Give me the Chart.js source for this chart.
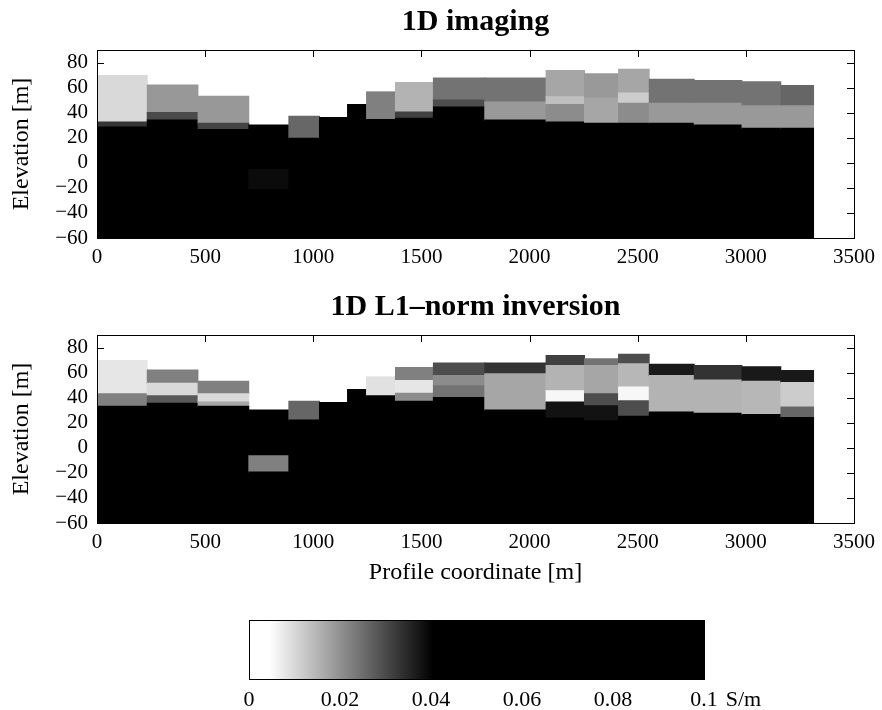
<!DOCTYPE html>
<html lang="en">
<head>
<meta charset="UTF-8">
<title>1D imaging / 1D L1-norm inversion</title>
<script src="https://cdn.jsdelivr.net/npm/chart.js"></script>
<style>
  body { margin: 0; background: #fff; width: 882px; height: 710px; position: relative; overflow: hidden; }
  canvas { position: absolute; left: 0; }
</style>
</head>
<body>
<canvas id="imaging" width="882" height="270" style="top:0"></canvas>
<canvas id="inversion" width="882" height="310" style="top:285px"></canvas>
<canvas id="colorbar" width="882" height="110" style="top:600px"></canvas>

<script>
// sounding columns along the profile [m]
const columnEdges = [0, 235, 470, 705, 884, 1032, 1156, 1244, 1377, 1552, 1796, 2073, 2257, 2409, 2556, 2764, 2985, 3165, 3316];
// ground surface of each column [m]
const surface = [70, 62.5, 53.5, 30.5, 37.5, 36.5, 47, 57, 64.5, 68, 68, 74, 71.5, 75, 67, 66, 65, 62];

// layers per column, top down: [bottom elevation m, conductivity S/m]
const imagingLayers = [
  [[33, 0.0099], [29, 0.033], [-60, 0.07]],
  [[40.5, 0.019], [34.5, 0.030], [-60, 0.07]],
  [[32, 0.019], [27, 0.031], [-60, 0.07]],
  [[-5, 0.07], [-21, 0.039], [-60, 0.07]],
  [[20, 0.026], [-60, 0.07]],
  [[-60, 0.07]],
  [[-60, 0.07]],
  [[35, 0.0225], [-60, 0.07]],
  [[41, 0.0153], [36, 0.0315], [-60, 0.07]],
  [[50.5, 0.0243], [45, 0.0297], [-60, 0.07]],
  [[49, 0.0243], [34.5, 0.0189], [-60, 0.07]],
  [[53, 0.0171], [47, 0.0135], [33, 0.0207], [-60, 0.07]],
  [[52, 0.0189], [32, 0.0171], [-60, 0.07]],
  [[56, 0.0171], [48, 0.0117], [32, 0.0207], [-60, 0.07]],
  [[48, 0.0243], [32, 0.0189], [-60, 0.07]],
  [[48, 0.0243], [30.5, 0.0189], [-60, 0.07]],
  [[46, 0.0243], [28, 0.0189], [-60, 0.07]],
  [[46, 0.0261], [28, 0.0189], [-60, 0.07]]
];
const inversionLayers = [
  [[43.5, 0.0081], [33.5, 0.0225], [-60, 0.07]],
  [[52, 0.0225], [42, 0.0099], [36, 0.0279], [-60, 0.07]],
  [[43.5, 0.0225], [37, 0.0099], [33.5, 0.0171], [-60, 0.07]],
  [[-6, 0.07], [-19, 0.0225], [-60, 0.07]],
  [[22.5, 0.0261], [-60, 0.07]],
  [[-60, 0.07]],
  [[-60, 0.07]],
  [[42, 0.0088], [-60, 0.07]],
  [[54, 0.0225], [44, 0.0081], [37.5, 0.0207], [-60, 0.07]],
  [[58, 0.0297], [50, 0.0207], [40.5, 0.0243], [-60, 0.07]],
  [[59.5, 0.0333], [30.5, 0.0171], [-60, 0.07]],
  [[66, 0.0315], [46, 0.0153], [37, 0.0056], [24, 0.038], [-60, 0.07]],
  [[66, 0.0243], [43.5, 0.0171], [34, 0.0297], [22, 0.038], [-60, 0.07]],
  [[67.5, 0.0297], [49, 0.0146], [38, 0.0056], [25.5, 0.0297], [-60, 0.07]],
  [[58, 0.0369], [29, 0.0153], [-60, 0.07]],
  [[54.5, 0.0333], [28, 0.0153], [-60, 0.07]],
  [[53.5, 0.0369], [27, 0.0146], [-60, 0.07]],
  [[52.5, 0.0369], [33, 0.0117], [24.5, 0.0261], [-60, 0.07]]
];

const xTicks = [0, 500, 1000, 1500, 2000, 2500, 3000, 3500];
const yTicks = [-60, -40, -20, 0, 20, 40, 60, 80];
const yRange = [-60, 90];
const cbTicks = [0, 0.02, 0.04, 0.06, 0.08, 0.1];
const cbLabels = ['0', '0.02', '0.04', '0.06', '0.08', '0.1'];

// gray colormap, white below ~0.005 S/m, black above ~0.04 S/m
const cmapSigma = [0, 0.0045, 0.0405, 0.1];
const cmapGray = [1, 1, 0, 0];

const serif = "'Liberation Serif', 'Times New Roman', serif";
// cells overlap their neighbours slightly (m) so antialiased edges don't leave light seams
const seamX = 6;
const seamY = 1;

function grayAt(s) {
  for (let i = 1; i < cmapSigma.length; i++) {
    if (s <= cmapSigma[i]) {
      const t = (s - cmapSigma[i - 1]) / (cmapSigma[i] - cmapSigma[i - 1]);
      return cmapGray[i - 1] + t * (cmapGray[i] - cmapGray[i - 1]);
    }
  }
  return cmapGray[cmapGray.length - 1];
}
function grayColor(g) {
  const v = Math.round(255 * g);
  return `rgb(${v},${v},${v})`;
}

// one filled band per layer, drawn column by column, top down
function sectionDatasets(layers) {
  const sets = [];
  const last = layers.length - 1;
  layers.forEach((col, c) => {
    // the lower of two neighbours reaches under the taller one, which is painted later or on top
    const x0 = columnEdges[c] - (c > 0 && surface[c] <= surface[c - 1] ? seamX : 0);
    const x1 = columnEdges[c + 1] + (c < last && surface[c] < surface[c + 1] ? seamX : 0);
    let top = surface[c];
    col.forEach(([bottom, sigma]) => {
      sets.push({
        data: [{x: x0, y: top}, {x: x1, y: top}],
        fill: {value: Math.max(bottom - seamY, yRange[0])},
        backgroundColor: grayColor(grayAt(sigma)),
        borderColor: 'transparent',
        borderWidth: 0,
        pointRadius: 0
      });
      top = bottom;
    });
  });
  // chart.js paints the highest index first, so flip
  return sets.reverse();
}

// axes box with inward ticks (ticks sit under the section)
const boxPlugin = {
  id: 'box',
  beforeDatasetsDraw(chart) {
    const {ctx, chartArea: a, scales: {x, y}} = chart;
    if (!y.options.display) return;
    ctx.save();
    ctx.strokeStyle = '#000';
    ctx.lineWidth = 1;
    ctx.beginPath();
    x.ticks.forEach(t => {
      const px = Math.round(x.getPixelForValue(t.value)) + 0.5;
      ctx.moveTo(px, a.bottom); ctx.lineTo(px, a.bottom - 7);
      ctx.moveTo(px, a.top); ctx.lineTo(px, a.top + 7);
    });
    y.ticks.forEach(t => {
      const py = Math.round(y.getPixelForValue(t.value)) + 0.5;
      ctx.moveTo(a.left, py); ctx.lineTo(a.left + 7, py);
      ctx.moveTo(a.right, py); ctx.lineTo(a.right - 7, py);
    });
    ctx.stroke();
    ctx.restore();
  },
  afterDatasetsDraw(chart) {
    const {ctx, chartArea: a} = chart;
    ctx.save();
    ctx.strokeStyle = '#000';
    ctx.lineWidth = 1;
    const l = Math.round(a.left) + 0.5, t = Math.round(a.top) + 0.5;
    ctx.strokeRect(l, t, Math.round(a.right) - Math.round(a.left), Math.round(a.bottom) - Math.round(a.top));
    ctx.restore();
  }
};

function sectionChart(id, title, layers, xHeight, xTitle) {
  return new Chart(document.getElementById(id), {
    type: 'line',
    data: {datasets: sectionDatasets(layers)},
    options: {
      responsive: false,
      animation: false,
      events: [],
      layout: {padding: {left: 0, right: 25, top: 0, bottom: 0}},
      plugins: {
        legend: {display: false},
        tooltip: {enabled: false},
        title: {
          display: true, text: title, color: '#000', fullSize: false,
          font: {family: serif, size: 30, weight: 'bold'},
          padding: {top: 4, bottom: 10}
        }
      },
      scales: {
        x: {
          type: 'linear', min: xTicks[0], max: xTicks[xTicks.length - 1],
          afterBuildTicks: s => { s.ticks = xTicks.map(v => ({value: v})); },
          afterFit: s => { s.height = xHeight; },
          border: {display: false},
          grid: {display: false, drawTicks: false},
          ticks: {
            color: '#000', padding: 7, maxRotation: 0, autoSkip: false,
            font: {family: serif, size: 21},
            callback: v => String(v)
          },
          title: {
            display: !!xTitle, text: xTitle || '', color: '#000',
            font: {family: serif, size: 24}, padding: {top: 0, bottom: 8}
          }
        },
        y: {
          type: 'linear', min: yRange[0], max: yRange[1],
          afterBuildTicks: s => { s.ticks = yTicks.map(v => ({value: v})); },
          afterFit: s => { s.width = 97; },
          border: {display: false},
          grid: {display: false, drawTicks: false},
          ticks: {
            color: '#000', padding: 9, autoSkip: false,
            font: {family: serif, size: 21},
            callback: v => String(v).replace('-', '\u2212')
          },
          title: {
            display: true, text: 'Elevation [m]', color: '#000',
            font: {family: serif, size: 24}, padding: {top: 7, bottom: 0}
          }
        }
      }
    },
    plugins: [boxPlugin]
  });
}

sectionChart('imaging', '1D imaging', imagingLayers, 32, null);
sectionChart('inversion', '1D L1\u2013norm inversion', inversionLayers, 72, 'Profile coordinate [m]');

// colour scale bar
const cbMin = cbTicks[0], cbMax = cbTicks[cbTicks.length - 1];
const unitPlugin = {
  id: 'unit',
  afterDraw(chart) {
    const {ctx, chartArea: a, scales: {x}} = chart;
    ctx.save();
    ctx.font = `22px ${serif}`;
    ctx.fillStyle = '#000';
    ctx.textBaseline = 'middle';
    ctx.textAlign = 'left';
    const px = x.getPixelForValue(cbMax) + ctx.measureText(cbLabels[cbLabels.length - 1]).width / 2 + 8;
    ctx.fillText('S/m', px, a.bottom + 8 + 13.2);
    ctx.restore();
  }
};

new Chart(document.getElementById('colorbar'), {
  type: 'line',
  data: {
    datasets: [{
      data: [{x: cbMin, y: 1}, {x: cbMax, y: 1}],
      fill: 'origin',
      borderColor: 'transparent',
      borderWidth: 0,
      pointRadius: 0,
      backgroundColor: c => {
        const chart = c.chart;
        if (!chart.chartArea) return '#000';
        const xs = chart.scales.x;
        const g = chart.ctx.createLinearGradient(xs.getPixelForValue(cbMin), 0, xs.getPixelForValue(cbMax), 0);
        cmapSigma.forEach((s, i) => g.addColorStop((s - cbMin) / (cbMax - cbMin), grayColor(cmapGray[i])));
        return g;
      }
    }]
  },
  options: {
    responsive: false,
    animation: false,
    events: [],
    layout: {padding: {left: 249, right: 178, top: 20, bottom: 0}},
    plugins: {legend: {display: false}, tooltip: {enabled: false}},
    scales: {
      x: {
        type: 'linear', min: cbMin, max: cbMax,
        afterBuildTicks: s => { s.ticks = cbTicks.map(v => ({value: v})); },
        afterFit: s => { s.height = 31; },
        border: {display: false},
        grid: {display: false, drawTicks: false},
        ticks: {
          color: '#000', padding: 8, maxRotation: 0, autoSkip: false,
          font: {family: serif, size: 22},
          callback: (v, i) => cbLabels[i]
        }
      },
      y: {min: 0, max: 1, display: false}
    }
  },
  plugins: [boxPlugin, unitPlugin]
});
</script>
</body>
</html>
